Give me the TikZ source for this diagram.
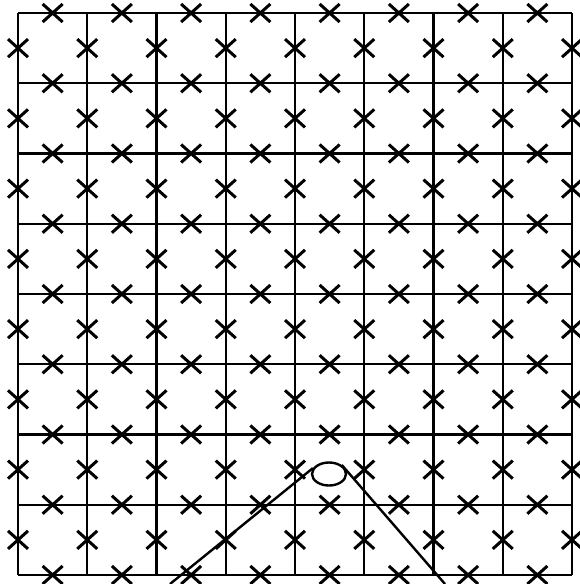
\documentclass[tikz,border=0pt]{standalone}
\usetikzlibrary{shapes.misc,shapes.geometric}

\begin{document}
\begin{tikzpicture}[
  x=1pt, y=-1pt,
  gridline/.style={line width=2.4pt},
  xmark/.style={
    draw, cross out, line width=3pt,
    minimum width=17pt, minimum height=15pt, inner sep=0pt
  },
  ring/.style={draw, ellipse, line width=2.4pt, minimum width=34pt, minimum height=23pt, inner sep=0pt},
  rope/.style={line width=2.4pt}
]
\useasboundingbox (0,0) rectangle (579,584);

% =================== GRID ===================
\foreach \i in {0,...,8} {
  \draw[gridline] ({18+69.25*\i},13) -- ({18+69.25*\i},575);
  \draw[gridline] (18,{13+70.25*\i}) -- (572,{13+70.25*\i});
}

% =================== CROSSES ===================
% crosses on horizontal edges
\foreach \r in {0,...,8}
  \foreach \c in {0,...,7}
    \node[xmark] (h-\r-\c) at ({18+69.25*(\c+0.5)},{13+70.25*\r}) {};

% crosses on vertical edges
\foreach \c in {0,...,8}
  \foreach \r in {0,...,7}
    \node[xmark] (v-\r-\c) at ({18+69.25*\c},{13+70.25*(\r+0.5)}) {};

% =================== LOOP ===================
\node[ring] (loop) at (329,474) {};

\coordinate (lend) at (170,584);
\coordinate (rend) at (445,584);

\draw[rope] (lend) -- (loop.160);
\draw[rope] (loop.35) -- (rend);

\end{tikzpicture}
\end{document}
